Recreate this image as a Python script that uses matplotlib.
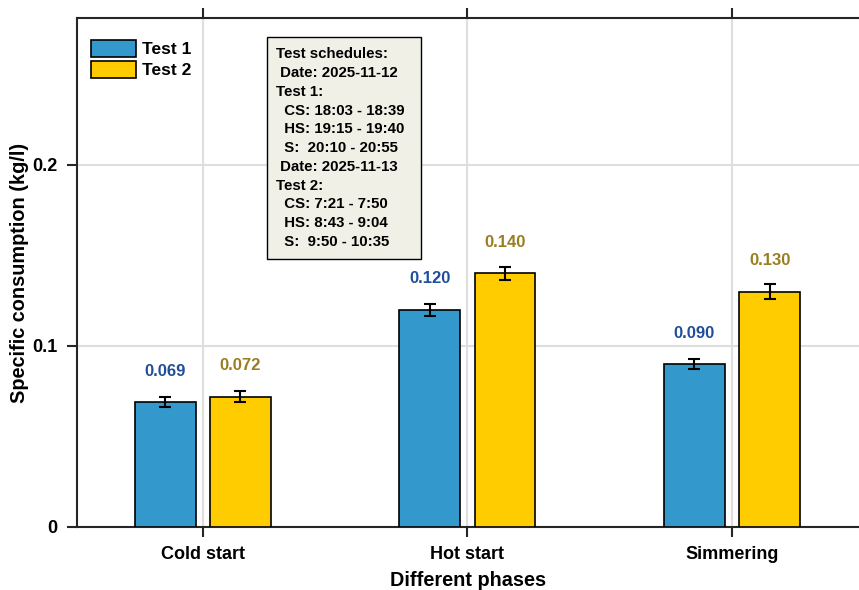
import matplotlib
matplotlib.use("Agg")
import matplotlib.pyplot as plt
from matplotlib.patches import Rectangle
import numpy as np

plt.rcParams['font.family'] = ['Liberation Sans', 'DejaVu Sans']
plt.rcParams['font.weight'] = 'bold'

phases = ["Cold start", "Hot start", "Simmering"]
test1 = [0.069, 0.120, 0.090]
test2 = [0.072, 0.140, 0.130]
err1 = [0.003, 0.0033, 0.003]
err2 = [0.0032, 0.0038, 0.004]
series_names = ["Test 1", "Test 2"]
schedule_lines = [
    "Test schedules:",
    " Date: 2025-11-12",
    "Test 1:",
    "  CS: 18:03 - 18:39",
    "  HS: 19:15 - 19:40",
    "  S:  20:10 - 20:55",
    " Date: 2025-11-13",
    "Test 2:",
    "  CS: 7:21 - 7:50",
    "  HS: 8:43 - 9:04",
    "  S:  9:50 - 10:35",
]

c1 = "#3399CC"
c2 = "#FFCC00"
lab1 = "#1F4E9A"
lab2 = "#9A7D1F"
spine_col = "#262626"

fig = plt.figure(figsize=(8.59, 5.90), dpi=100)
ax = fig.add_axes([0.0896, 0.1068, 0.9104, 0.8627])

x = np.arange(1, len(phases) + 1)
off = 0.142
w = 0.23

ax.bar(x - off, test1, w, color=c1, edgecolor="black", linewidth=1.2,
       label=series_names[0], zorder=3)
ax.bar(x + off, test2, w, color=c2, edgecolor="black", linewidth=1.2,
       label=series_names[1], zorder=3)
ax.errorbar(x - off, test1, yerr=err1, fmt="none", ecolor="black",
            elinewidth=1.5, capsize=4.5, capthick=1.5, zorder=4)
ax.errorbar(x + off, test2, yerr=err2, fmt="none", ecolor="black",
            elinewidth=1.5, capsize=4.5, capthick=1.5, zorder=4)

# value labels above each bar
for xi, v in zip(x - off, test1):
    ax.text(xi, v + 0.017, f"{v:.3f}", color=lab1, ha="center", va="center",
            fontsize=12, fontweight="bold")
for xi, v in zip(x + off, test2):
    ax.text(xi, v + 0.017, f"{v:.3f}", color=lab2, ha="center", va="center",
            fontsize=12, fontweight="bold")

ax.set_xlim(0.524, 3.48)
ax.set_ylim(0, 0.281)
ax.set_xticks(x)
ax.set_xticklabels(phases)
ax.set_yticks([0, 0.1, 0.2])
ax.set_yticklabels(["0", "0.1", "0.2"])
ax.set_xlabel("Different phases", fontsize=14.3, fontweight="bold", labelpad=5.5)
ax.set_ylabel("Specific consumption (kg/l)", fontsize=14.3, fontweight="bold",
              labelpad=2.5)

ax.grid(True, color="#DEDEDE", linewidth=1.5, zorder=0)
ax.set_axisbelow(True)
ax.tick_params(axis="both", direction="out", length=7, width=1.5,
               colors=spine_col, labelsize=13, labelcolor="black")
ax.tick_params(axis="x", top=True, pad=7)
ax.tick_params(axis="y", pad=7)
for side in ["left", "bottom", "top"]:
    ax.spines[side].set_color(spine_col)
    ax.spines[side].set_linewidth(1.5)
ax.spines["right"].set_visible(False)

ax.legend(loc="upper left", frameon=False, fontsize=12.5, handlelength=2.6,
          handleheight=1.15, handletextpad=0.3, labelspacing=0.2,
          borderaxespad=0.2, bbox_to_anchor=(0.005, 0.978))

# schedule box
ax.add_patch(Rectangle((0.243, 0.5265), 0.197, 0.4362, transform=ax.transAxes,
                       facecolor="#F0F0E6", edgecolor="black", linewidth=1.0,
                       zorder=5))
ax.text(0.2545, 0.7445, "\n".join(schedule_lines), transform=ax.transAxes,
        fontsize=10.8, fontweight="bold", ha="left", va="center",
        linespacing=1.43, zorder=6)

fig.savefig("out.png", dpi=100)
